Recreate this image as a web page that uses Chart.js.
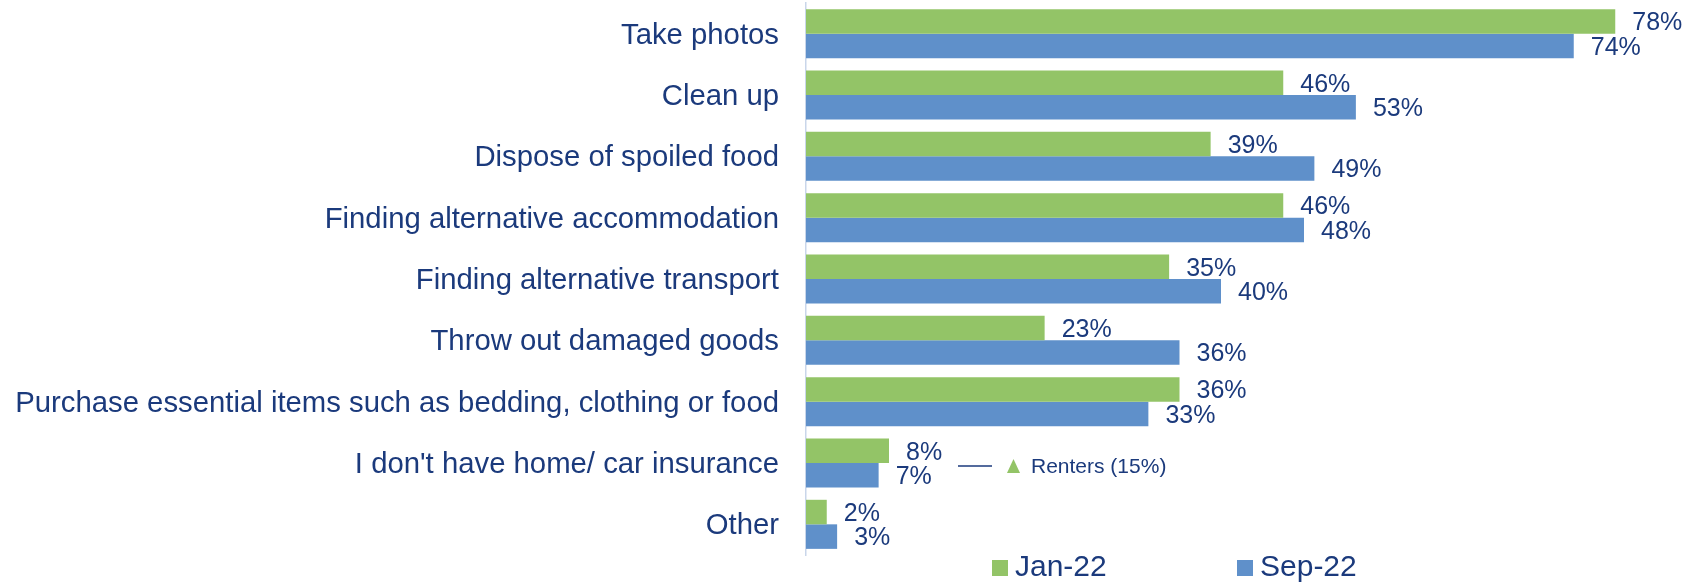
<!DOCTYPE html>
<html>
<head>
<meta charset="utf-8">
<script src="https://cdn.jsdelivr.net/npm/chart.js@4/dist/chart.umd.min.js"></script>
<style>
    html, body { margin: 0; padding: 0; background: #fff; }
    #wrap { width: 1691px; height: 587px; position: relative; }
</style>
</head>
<body>
<div id="wrap"><canvas id="chart"></canvas></div>
<script>
const categories = [
    'Take photos',
    'Clean up',
    'Dispose of spoiled food',
    'Finding alternative accommodation',
    'Finding alternative transport',
    'Throw out damaged goods',
    'Purchase essential items such as bedding, clothing or food',
    "I don't have home/ car insurance",
    'Other'
];
const jan22 = [78, 46, 39, 46, 35, 23, 36, 8, 2];
const sep22 = [74, 53, 49, 48, 40, 36, 33, 7, 3];
const seriesNames = ['Jan-22', 'Sep-22'];
const rentersNote = 'Renters (15%)';
const rentersRow = 7;

const textColor = '#1B3A7C';
const green = '#93C467';
const blue = '#5F90CA';
const fontFamily = '"Liberation Sans", Arial, sans-serif';

// value labels just right of each bar
const valueLabels = {
    id: 'valueLabels',
    afterDatasetsDraw(chart) {
        const ctx = chart.ctx;
        ctx.save();
        ctx.fillStyle = textColor;
        ctx.font = '25px ' + fontFamily;
        ctx.textAlign = 'left';
        ctx.textBaseline = 'middle';
        chart.data.datasets.forEach((ds, i) => {
            chart.getDatasetMeta(i).data.forEach((bar, j) => {
                ctx.fillText(ds.data[j] + '%', bar.x + 17, bar.y + 2);
            });
        });
        ctx.restore();
    }
};

// small note next to the insurance row + legend at the bottom
const extras = {
    id: 'extras',
    afterDraw(chart) {
        const ctx = chart.ctx;
        const area = chart.chartArea;
        const y = chart.scales.y.getPixelForValue(rentersRow) + 3;
        ctx.save();
        ctx.strokeStyle = textColor;
        ctx.lineWidth = 1.5;
        ctx.beginPath();
        ctx.moveTo(area.left + 152, y);
        ctx.lineTo(area.left + 186, y);
        ctx.stroke();

        ctx.fillStyle = green;
        ctx.beginPath();
        ctx.moveTo(area.left + 201, y + 7);
        ctx.lineTo(area.left + 214, y + 7);
        ctx.lineTo(area.left + 207.5, y - 7);
        ctx.closePath();
        ctx.fill();

        ctx.fillStyle = textColor;
        ctx.font = '21px ' + fontFamily;
        ctx.textBaseline = 'middle';
        ctx.fillText(rentersNote, area.left + 225, y + 1);

        // legend
        const legendX = [992, 1237];
        const legendY = 568;
        ctx.font = '30px ' + fontFamily;
        chart.data.datasets.forEach((ds, i) => {
            ctx.fillStyle = ds.backgroundColor;
            ctx.fillRect(legendX[i], legendY - 8, 16, 16);
            ctx.fillStyle = textColor;
            ctx.fillText(ds.label, legendX[i] + 23, legendY);
        });
        ctx.restore();
    }
};

new Chart(document.getElementById('chart'), {
    type: 'bar',
    data: {
        labels: categories,
        datasets: [
            { label: seriesNames[0], data: jan22, backgroundColor: green },
            { label: seriesNames[1], data: sep22, backgroundColor: blue }
        ]
    },
    options: {
        indexAxis: 'y',
        responsive: true,
        maintainAspectRatio: false,
        animation: false,
        categoryPercentage: 0.8,
        barPercentage: 1.0,
        layout: { padding: { top: 3, right: 55, bottom: 32, left: 0 } },
        scales: {
            x: {
                display: false,
                min: 0,
                max: 80
            },
            y: {
                grid: { display: false, drawTicks: false },
                border: { display: true, color: '#C9D6EA', width: 1.5 },
                ticks: {
                    color: textColor,
                    font: { family: fontFamily, size: 29.3 },
                    padding: 27,
                    labelOffset: 2
                },
                afterFit(scale) {
                    scale.width = 806;
                    scale.paddingTop = 0;
                    scale.paddingBottom = 0;
                }
            }
        },
        plugins: {
            legend: { display: false },
            tooltip: { enabled: false }
        }
    },
    plugins: [valueLabels, extras]
});
</script>
</body>
</html>
